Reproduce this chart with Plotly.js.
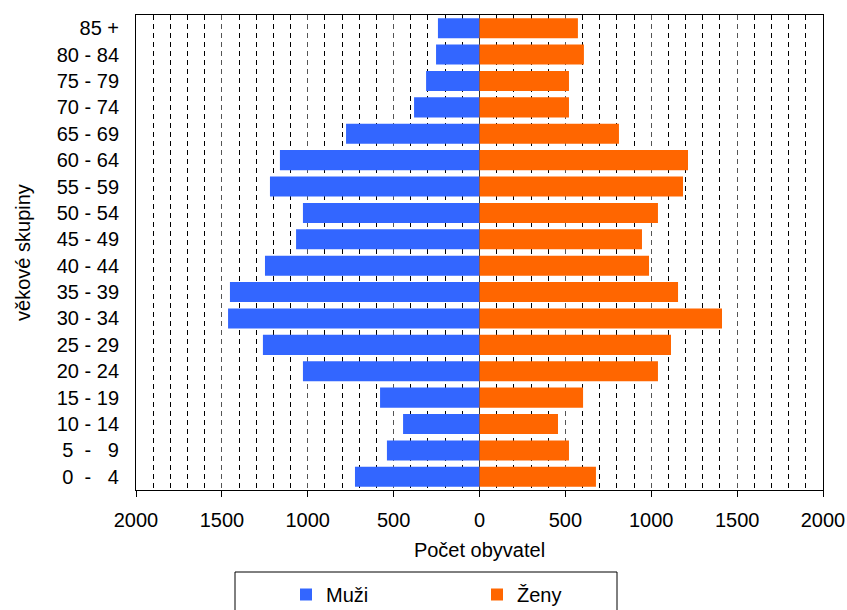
<!DOCTYPE html>
<html>
<head>
<meta charset="utf-8">
<script src="https://cdn.plot.ly/plotly-3.0.1.min.js"></script>
<style>html,body{margin:0;padding:0;background:#fff;}#chart{width:847px;height:610px;}</style>
</head>
<body>
<div id="chart"></div>
<script>
var NB = '\u00a0';
var ageGroups = ['0' + NB + NB + '-' + NB + NB + NB + '4', '5' + NB + NB + '-' + NB + NB + NB + '9',
  '10 - 14', '15 - 19', '20 - 24', '25 - 29', '30 - 34', '35 - 39', '40 - 44',
  '45 - 49', '50 - 54', '55 - 59', '60 - 64', '65 - 69', '70 - 74', '75 - 79', '80 - 84', '85 +'];
var men = [725, 539, 445, 579, 1028, 1261, 1464, 1453, 1249, 1068, 1028, 1220, 1162, 777, 381, 311, 253, 242];
var women = [678, 521, 457, 603, 1039, 1115, 1412, 1156, 987, 946, 1039, 1185, 1214, 812, 521, 521, 608, 573];
var xTickVals = [-2000, -1500, -1000, -500, 0, 500, 1000, 1500, 2000];
var xTickText = ['2000', '1500', '1000', '500', '0', '500', '1000', '1500', '2000'];

var FONT = 'Liberation Sans, Arial, sans-serif';

var traces = [
  {type: 'bar', orientation: 'h', name: 'Muži', y: ageGroups,
   x: men.map(function (v) { return -v; }), marker: {color: '#3366FF', line: {width: 0}}},
  {type: 'bar', orientation: 'h', name: 'Ženy', y: ageGroups,
   x: women, marker: {color: '#FF6600', line: {width: 0}}}
];

var W = 847, H = 610;
var pl = 136, pr = 823, pt = 15, pb = 490;
var pw = pr - pl, ph = pb - pt;
function px(x) { return (x - pl) / pw; }
function py(y) { return (pb - y) / ph; }

var layout = {
  width: W, height: H,
  margin: {l: pl, r: W - pr, t: pt, b: H - pb},
  paper_bgcolor: '#fff', plot_bgcolor: '#fff',
  font: {family: FONT, size: 20, color: '#000'},
  barmode: 'relative', bargap: 0.24,
  showlegend: true,
  legend: {orientation: 'h', xref: 'container', yref: 'container',
    x: 286 / W, xanchor: 'left', y: 1 - 575 / H, yanchor: 'top',
    bgcolor: 'rgba(0,0,0,0)', borderwidth: 0, entrywidth: 146, entrywidthmode: 'pixels',
    font: {family: FONT, size: 20, color: '#000'}, traceorder: 'normal'},
  xaxis: {range: [-2000, 2000], tickmode: 'array', tickvals: xTickVals, ticktext: xTickText,
    showline: true, mirror: true, linecolor: '#000', linewidth: 1,
    ticks: 'outside', ticklen: 6, tickcolor: '#000', ticklabelstandoff: 6,
    showgrid: true, gridcolor: '#555', gridwidth: 1, griddash: '5px,4px',
    minor: {dtick: 100, tick0: 0, showgrid: true, gridcolor: '#000', gridwidth: 1, griddash: '5px,4px', ticks: ''},
    zeroline: true, zerolinecolor: '#333', zerolinewidth: 1,
    tickfont: {family: FONT, size: 20, color: '#000'},
    title: {text: 'Počet obyvatel', standoff: 12, font: {family: FONT, size: 20, color: '#000'}},
    fixedrange: true, automargin: false},
  yaxis: {type: 'category', categoryorder: 'array', categoryarray: ageGroups,
    showline: true, mirror: true, linecolor: '#000', linewidth: 1,
    ticks: '', ticklabelstandoff: 12, showgrid: false, zeroline: false,
    tickfont: {family: FONT, size: 20, color: '#000'},
    title: {text: 'věkové skupiny', standoff: 20, font: {family: FONT, size: 20, color: '#000'}},
    fixedrange: true, automargin: false},
  shapes: [
    {type: 'rect', xref: 'paper', yref: 'paper', x0: px(235), x1: px(617), y0: py(625), y1: py(572),
     line: {color: '#000', width: 1}, fillcolor: 'rgba(0,0,0,0)', layer: 'above'}
  ]
};

Plotly.newPlot('chart', traces, layout, {displayModeBar: false, staticPlot: true});
</script>
</body>
</html>
